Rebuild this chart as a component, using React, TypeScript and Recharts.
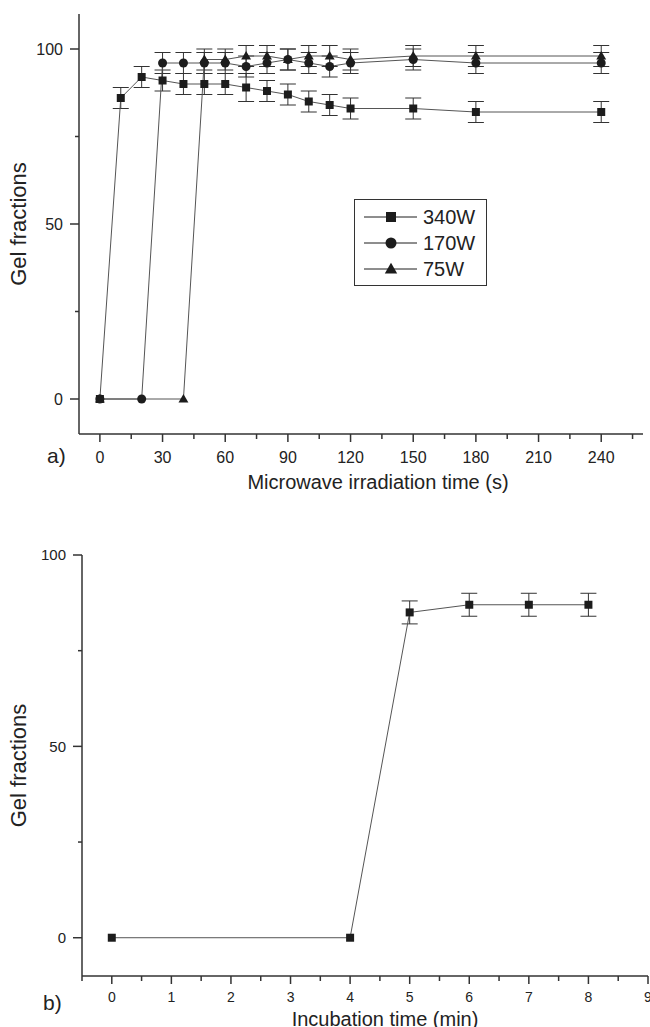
import React from "react";
import { LineChart, Line, XAxis, YAxis, ErrorBar, Legend, Label } from "recharts";

// (a) gel fraction vs microwave irradiation time, per power
const time340 = [0, 10, 20, 30, 40, 50, 60, 70, 80, 90, 100, 110, 120, 150, 180, 240];
const gel340 = [0, 86, 92, 91, 90, 90, 90, 89, 88, 87, 85, 84, 83, 83, 82, 82];
const err340 = [0, 3, 3, 3, 3, 3, 3, 4, 3, 3, 3, 3, 3, 3, 3, 3];

const time170 = [0, 20, 30, 40, 50, 60, 70, 80, 90, 100, 110, 120, 150, 180, 240];
const gel170 = [0, 0, 96, 96, 96, 96, 95, 96, 97, 96, 95, 96, 97, 96, 96];
const err170 = [0, 0, 3, 3, 3, 3, 3, 3, 3, 3, 3, 3, 3, 3, 3];

const time75 = [0, 40, 50, 60, 70, 80, 90, 100, 110, 120, 150, 180, 240];
const gel75 = [0, 0, 97, 97, 98, 98, 97, 98, 98, 97, 98, 98, 98];
const err75 = [0, 0, 3, 3, 3, 3, 3, 3, 3, 3, 3, 3, 3];

// (b) gel fraction vs incubation time
const timeInc = [0, 4, 5, 6, 7, 8];
const gelInc = [0, 0, 85, 87, 87, 87];
const errInc = [0, 0, 3, 3, 3, 3];

// axis ticks
const xTicksA = [0, 15, 30, 45, 60, 75, 90, 105, 120, 135, 150, 165, 180, 195, 210, 225, 240, 255];
const xLabelsA = [0, 30, 60, 90, 120, 150, 180, 210, 240];
const xTicksB = [-0.5, 0, 0.5, 1, 1.5, 2, 2.5, 3, 3.5, 4, 4.5, 5, 5.5, 6, 6.5, 7, 7.5, 8, 8.5, 9];
const xLabelsB = [0, 1, 2, 3, 4, 5, 6, 7, 8, 9];
const yTicks = [0, 25, 50, 75, 100];
const yLabels = [0, 50, 100];

const INK = "#1c1c1c";
const AXIS = "#333";
const LINE = "#555";

const zip = (t: number[], v: number[], e: number[]) =>
  t.map((x, i) => ({ t: x, v: v[i], e: e[i] }));

const seriesA = [
  { name: "340W", shape: "square", data: zip(time340, gel340, err340) },
  { name: "170W", shape: "circle", data: zip(time170, gel170, err170) },
  { name: "75W", shape: "triangle", data: zip(time75, gel75, err75) },
];
const dataB = zip(timeInc, gelInc, errInc);

const Marker = ({ shape, cx, cy, s }: any) => {
  if (cx == null || cy == null) return null;
  if (shape === "square")
    return <rect x={cx - s / 2} y={cy - s / 2} width={s} height={s} fill={INK} />;
  if (shape === "circle") return <circle cx={cx} cy={cy} r={s / 2 + 0.5} fill={INK} />;
  const w = s * 0.62;
  return (
    <polygon
      points={`${cx},${cy - s * 0.62} ${cx - w},${cy + s * 0.45} ${cx + w},${cy + s * 0.45}`}
      fill={INK}
    />
  );
};

// bottom ticks: long + label for major, short for minor
const XTick = ({ x, y, payload, labels, fontSize, gap = 23 }: any) => {
  const major = labels.includes(payload.value);
  return (
    <g>
      <line x1={x} x2={x} y1={y} y2={y + (major ? 8 : 5)} stroke={AXIS} strokeWidth={1.5} />
      {major && (
        <text x={x} y={y + gap} dy="0.36em" textAnchor="middle" fontSize={fontSize} fill="#222">
          {payload.value}
        </text>
      )}
    </g>
  );
};

const YTick = ({ x, y, payload, fontSize }: any) => {
  const major = yLabels.includes(payload.value);
  return (
    <g>
      <line x1={x - (major ? 9 : 4)} x2={x} y1={y} y2={y} stroke={AXIS} strokeWidth={1.5} />
      {major && (
        <text x={x - 16} y={y} dy="0.36em" textAnchor="end" fontSize={fontSize} fill="#222">
          {payload.value}
        </text>
      )}
    </g>
  );
};

const LegendBox = () => (
  <div
    style={{
      width: 133,
      height: 87,
      boxSizing: "border-box",
      border: `1.5px solid ${AXIS}`,
      background: "#fff",
      paddingTop: 4,
    }}
  >
    {seriesA.map((s) => (
      <div key={s.name} style={{ display: "flex", alignItems: "center", height: 26 }}>
        <svg width={68} height={26}>
          <line x1={9} x2={62} y1={13} y2={13} stroke={INK} strokeWidth={1} />
          <Marker shape={s.shape} cx={36} cy={13} s={10} />
        </svg>
        <span style={{ fontSize: 20, color: "#222", lineHeight: "26px" }}>{s.name}</span>
      </div>
    ))}
  </div>
);

export default function App() {
  return (
    <div
      style={{
        position: "absolute",
        left: 0,
        top: 0,
        width: 650,
        height: 1027,
        background: "#fff",
        fontFamily: "'Liberation Sans', Arial, sans-serif",
        overflow: "hidden",
      }}
    >
      {/* (a) */}
      <div style={{ position: "absolute", left: 0, top: 0 }}>
        <LineChart width={650} height={500} margin={{ top: 14, right: 7, left: 0, bottom: 0 }}>
          <XAxis
            dataKey="t"
            type="number"
            domain={[-10, 260]}
            ticks={xTicksA}
            interval={0}
            height={66}
            tickSize={0}
            tickMargin={0}
            tickLine={false}
            axisLine={{ stroke: AXIS, strokeWidth: 1.5 }}
            tick={(p: any) => <XTick {...p} labels={xLabelsA} fontSize={16} />}
            allowDuplicatedCategory={false}
          >
            <Label
              value="Microwave irradiation time (s)"
              position="insideBottom"
              offset={11}
              dx={17}
              fontSize={20}
              fill="#222"
            />
          </XAxis>
          <YAxis
            type="number"
            domain={[-10, 110]}
            ticks={yTicks}
            interval={0}
            width={79}
            tickSize={0}
            tickMargin={0}
            tickLine={false}
            axisLine={{ stroke: AXIS, strokeWidth: 1.5 }}
            tick={(p: any) => <YTick {...p} fontSize={16} />}
          >
            <Label
              value="Gel fractions"
              angle={-90}
              position="insideLeft"
              offset={18}
              fontSize={22}
              fill="#222"
              style={{ textAnchor: "middle" }}
            />
          </YAxis>
          <Legend
            layout="horizontal"
            align="center"
            verticalAlign="middle"
            wrapperStyle={{ left: 354, top: 199, width: 133, height: 87 }}
            content={() => <LegendBox />}
          />
          {seriesA.map((s) => (
            <Line
              key={s.name}
              name={s.name}
              data={s.data}
              dataKey="v"
              stroke={LINE}
              strokeWidth={1}
              isAnimationActive={false}
              dot={(p: any) => <Marker key={p.index} shape={s.shape} cx={p.cx} cy={p.cy} s={8} />}
              activeDot={false}
            >
              <ErrorBar dataKey="e" width={8} stroke={AXIS} strokeWidth={1} isAnimationActive={false} />
            </Line>
          ))}
        </LineChart>
      </div>
      <div style={{ position: "absolute", left: 47, top: 443, fontSize: 21, lineHeight: "26px", color: "#222" }}>
        a)
      </div>

      {/* (b) */}
      <div style={{ position: "absolute", left: 0, top: 520 }}>
        <LineChart width={650} height={507} data={dataB} margin={{ top: 35, right: 2, left: 0, bottom: 0 }}>
          <XAxis
            dataKey="t"
            type="number"
            domain={[-0.5, 9]}
            ticks={xTicksB}
            interval={0}
            height={51}
            tickSize={0}
            tickMargin={0}
            tickLine={false}
            axisLine={{ stroke: AXIS, strokeWidth: 1.5 }}
            tick={(p: any) => <XTick {...p} labels={xLabelsB} fontSize={14} gap={21} />}
          >
            <Label
              value="Incubation time (min)"
              position="insideBottom"
              offset={1}
              dx={20}
              fontSize={20}
              fill="#222"
            />
          </XAxis>
          <YAxis
            type="number"
            domain={[-10, 100]}
            ticks={yTicks}
            interval={0}
            width={82}
            tickSize={0}
            tickMargin={0}
            tickLine={false}
            axisLine={{ stroke: AXIS, strokeWidth: 1.5 }}
            tick={(p: any) => <YTick {...p} fontSize={15} />}
          >
            <Label
              value="Gel fractions"
              angle={-90}
              position="insideLeft"
              offset={18}
              fontSize={22}
              fill="#222"
              style={{ textAnchor: "middle" }}
            />
          </YAxis>
          <Line
            dataKey="v"
            stroke={LINE}
            strokeWidth={1}
            isAnimationActive={false}
            dot={(p: any) => <Marker key={p.index} shape="square" cx={p.cx} cy={p.cy} s={8} />}
            activeDot={false}
          >
            <ErrorBar dataKey="e" width={8} stroke={AXIS} strokeWidth={1} isAnimationActive={false} />
          </Line>
        </LineChart>
      </div>
      <div style={{ position: "absolute", left: 43, top: 990, fontSize: 21, lineHeight: "26px", color: "#222" }}>
        b)
      </div>
    </div>
  );
}
